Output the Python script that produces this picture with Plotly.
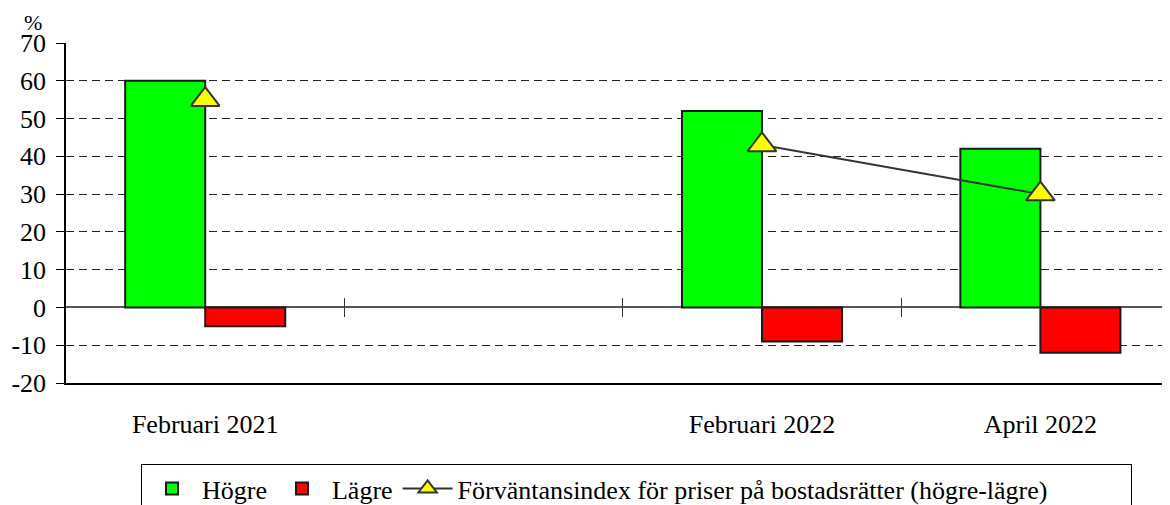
import plotly.graph_objects as go

categories = ["Februari 2021", "", "Februari 2022", "April 2022"]
hogre = [60, None, 52, 42]
lagre = [-5, None, -9, -12]
index_vals = [55, None, 43, 30]
y_ticks = [-20, -10, 0, 10, 20, 30, 40, 50, 60, 70]

names = ["Högre", "Lägre", "Förväntansindex för priser på bostadsrätter (högre-lägre)"]

OFF = 8  # default page body margin
W, H = 1170 - OFF, 505 - OFF
L, T = 66 - OFF, 43 - OFF
B = H - (383 - OFF)
plot_w = W - L
plot_h = H - T - B
cat_px = 278.4
x_end = -0.5 + plot_w / cat_px

def px_x(px):
    return (px - OFF - L) / plot_w

def px_y(py):
    return (H - B - (py - OFF)) / plot_h

xs = list(range(len(categories)))
FONT = "Liberation Serif"
OUT = "#1a1a1a"
PAD = "\u00a0" * 12  # widen legend box to match reference

fig = go.Figure()
fig.add_trace(go.Bar(x=xs, y=hogre, name=names[0], marker=dict(color="#00FF00", line=dict(color=OUT, width=2))))
fig.add_trace(go.Bar(x=xs, y=lagre, name=names[1], marker=dict(color="#FF0000", line=dict(color=OUT, width=2))))
fig.add_trace(go.Scatter(x=xs, y=index_vals, name=names[2] + PAD, mode="lines+markers",
                         connectgaps=False,
                         line=dict(color="#333333", width=2),
                         marker=dict(symbol="triangle-up", size=25, color="#FFFF00",
                                     line=dict(color="#333333", width=2))))

# boundary ticks on the zero line (outside + inside to form a crossing tick)
zero_pos = (0 - y_ticks[0]) / (y_ticks[-1] - y_ticks[0])
for tickdir, ax in (("outside", "xaxis2"), ("inside", "xaxis3")):
    fig.update_layout(**{ax: dict(overlaying="x", anchor="free", position=zero_pos, range=[-0.5, x_end],
                                  tickvals=[i + 0.5 for i in xs[:-1]], ticks=tickdir, ticklen=9,
                                  tickcolor="#333333", tickwidth=1, showticklabels=False,
                                  showgrid=False, showline=False, zeroline=False)})
fig.add_trace(go.Scatter(x=[None], y=[None], xaxis="x2", showlegend=False, hoverinfo="skip"))
fig.add_trace(go.Scatter(x=[None], y=[None], xaxis="x3", showlegend=False, hoverinfo="skip"))

fig.update_layout(
    width=W, height=H,
    margin=dict(l=L, r=0, t=T, b=B, autoexpand=False),
    paper_bgcolor="white", plot_bgcolor="white",
    font=dict(family=FONT, size=26, color="black"),
    barmode="group", bargap=0.425, bargroupgap=0,
    xaxis=dict(range=[-0.5, x_end], tickvals=xs, ticktext=categories, ticks="",
               showgrid=False, zeroline=False, showline=True, linecolor="black", linewidth=1.5,
               ticklabelstandoff=17, tickfont=dict(family=FONT, size=26)),
    yaxis=dict(range=[y_ticks[0], y_ticks[-1]], tickvals=y_ticks, ticktext=[str(v) for v in y_ticks],
               showgrid=True, gridcolor="#222222", gridwidth=1,
               griddash="8px,5px", zeroline=True, zerolinecolor="#555555", zerolinewidth=1.5,
               showline=True, linecolor="black", linewidth=1.5, ticks="outside", ticklen=8,
               tickcolor="black", ticklabelstandoff=5, tickfont=dict(family=FONT, size=26)),
    legend=dict(orientation="h", x=px_x(141), y=px_y(464), xanchor="left", yanchor="top",
                bordercolor="black", borderwidth=1, bgcolor="white", itemwidth=50,
                font=dict(family=FONT, size=26), traceorder="normal"),
    showlegend=True,
    annotations=[dict(text="%", xref="paper", yref="paper", x=px_x(33), y=px_y(22),
                      showarrow=False, font=dict(family=FONT, size=22), xanchor="center", yanchor="middle",
                      borderpad=0)],
)

fig.write_html("out.html")
